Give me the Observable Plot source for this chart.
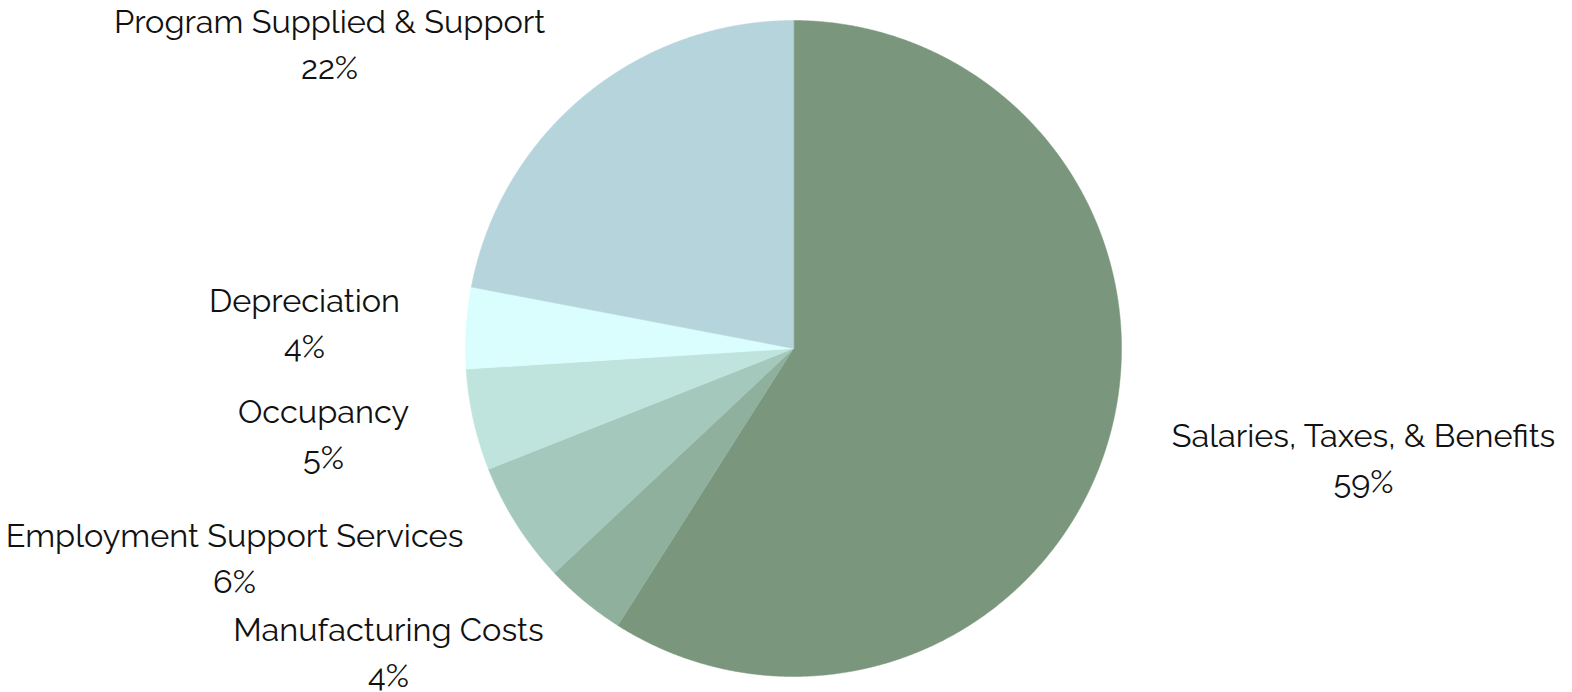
<!DOCTYPE html>
<html>
<head>
<meta charset="utf-8">
<script src="https://cdn.jsdelivr.net/npm/d3@7"></script>
<script src="https://cdn.jsdelivr.net/npm/@observablehq/plot@0.6"></script>
<style>
  html, body { margin: 0; padding: 0; background: #fff; }
  #chart { width: 1572px; height: 692px; }
</style>
</head>
<body>
<div id="chart"></div>
<script>
// Data (clockwise from 12 o'clock)
const categories = [
  "Salaries, Taxes, & Benefits",
  "Manufacturing Costs",
  "Employment Support Services",
  "Occupancy",
  "Depreciation",
  "Program Supplied & Support"
];
const values = [59, 4, 6, 5, 4, 22];
const colors = ["#7a967d", "#8eb09c", "#a5c8bc", "#bfe4dd", "#dafefe", "#b6d4dc"];

// Layout (pixel centers of label blocks)
const labelPxX = [1363, 388, 234, 323, 304, 329];
const labelPxY = [460, 654, 560, 436, 325, 45.5];

const W = 1572, H = 692, CX = 793, CY = 348, R = 328;
const FS = 32.5, LH = 46 / 32.5, YSHIFT = -5;

const pie = d3.pie().sort(null).value(d => d.value);
const rows = categories.map((c, i) => ({name: c, value: values[i], color: colors[i]}));
const arcs = pie(rows);

// polygon points for each slice (unit radius)
const pts = [];
arcs.forEach(a => {
  pts.push({name: a.data.name, color: a.data.color, x: 0, y: 0});
  const n = Math.max(8, Math.ceil((a.endAngle - a.startAngle) / 0.005));
  for (let k = 0; k <= n; k++) {
    const t = a.startAngle + (a.endAngle - a.startAngle) * k / n;
    pts.push({name: a.data.name, color: a.data.color, x: Math.sin(t), y: Math.cos(t)});
  }
});

const labels = rows.map((r, i) => ({
  text: r.name + "\n" + r.value + "%",
  x: (labelPxX[i] - CX) / R,
  y: (CY - (labelPxY[i] + YSHIFT)) / R
}));

const chart = Plot.plot({
  width: W,
  height: H,
  margin: 0,
  x: {domain: [-CX / R, (W - CX) / R], axis: null},
  y: {domain: [-(H - CY) / R, CY / R], axis: null},
  color: {type: "identity"},
  style: {fontFamily: "Raleway, Lato, 'Open Sans', sans-serif", background: "#fff"},
  marks: [
    Plot.line(pts, {x: "x", y: "y", z: "name", fill: "color", stroke: "color", strokeWidth: 0.5, curve: "linear-closed"}),
    Plot.text(labels, {x: "x", y: "y", text: "text", fontSize: FS, lineHeight: LH, fill: "#111", textAnchor: "middle"})
  ]
});
document.getElementById("chart").appendChild(chart);
</script>
</body>
</html>
